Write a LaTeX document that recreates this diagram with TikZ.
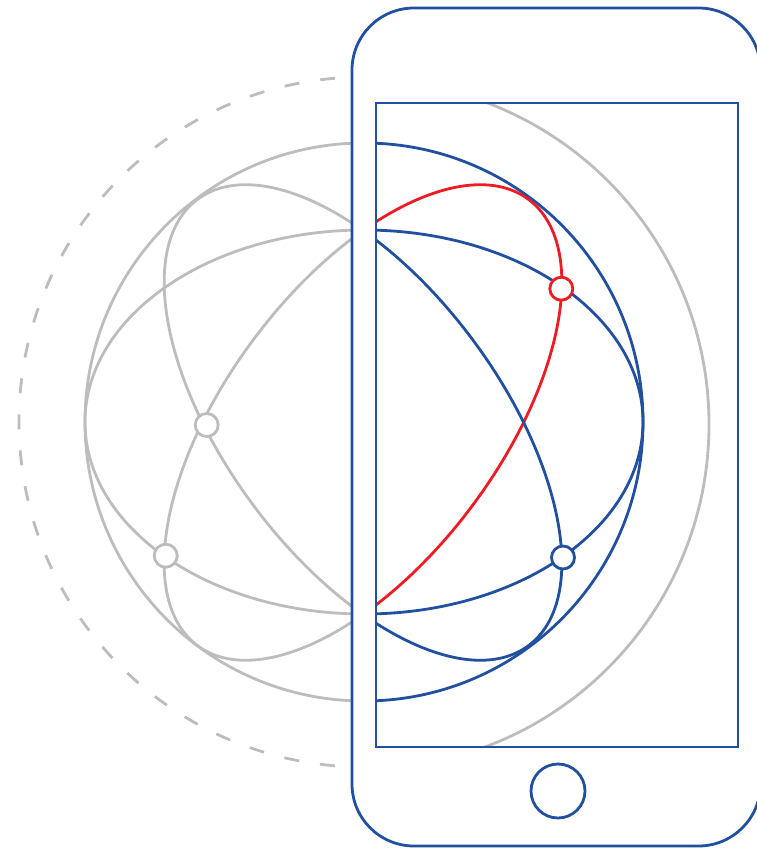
\documentclass[tikz,border=0pt]{standalone}
\usepackage{tikz}
\definecolor{phoneblue}{HTML}{2250A0}
\definecolor{softgray}{HTML}{BDBDBD}
\definecolor{alertred}{HTML}{ED1C24}
\tikzset{
  ln/.style={line width=2.8pt},
  bluel/.style={ln,draw=phoneblue},
  grayl/.style={ln,draw=softgray},
  redl/.style={ln,draw=alertred},
  dot/.style={circle,line width=2.8pt,fill=white,minimum size=23pt,inner sep=0pt,outer sep=0pt},
}
\newcommand{\globelines}[2]{%
  \draw[#1] (c) circle[radius=279pt];
  \draw[#1] (c) ellipse[x radius=279pt,y radius=192pt];
  \draw[#2,rotate around={53.47:(t)}] (t) ellipse[x radius=277.8pt,y radius=137.4pt];
  \draw[#1,rotate around={-53.47:(t)}] (t) ellipse[x radius=277.8pt,y radius=137.4pt];
}
\begin{document}
\begin{tikzpicture}[x=1pt,y=-1pt]
\useasboundingbox (0,0) rectangle (757,848);
\clip (0,0) rectangle (757,848);
\coordinate (c) at (364,422);
\coordinate (t) at (363,422.5);
\coordinate (orbit) at (365,424.5);
% globe, left of the phone
\begin{scope}
  \clip (0,0) rectangle (352,848);
  \globelines{grayl}{grayl}
\end{scope}
% dashed outer orbit
\draw[grayl,dash pattern=on 15pt off 21.1pt]
  ([shift={(94.8:345pt)}]c) arc[start angle=94.8,end angle=265.2,radius=345pt];
% globe, inside the screen
\begin{scope}
  \clip (376,103) rectangle (738,747);
  \draw[grayl] (orbit) circle[radius=344pt];
  \globelines{bluel}{redl}
\end{scope}
% phone
\draw[bluel,rounded corners=62pt] (352,8) rectangle (760.5,846);
\draw[bluel] (376,103) rectangle (738,747);
\node[circle,draw=phoneblue,line width=2.8pt,minimum size=54pt,inner sep=0pt] (home) at (558,791) {};
% markers
\node[dot,draw=softgray] (g1) at (206.7,425) {};
\node[dot,draw=softgray] (g2) at (165.7,555.7) {};
\node[dot,draw=alertred] (r1) at (561.3,288.7) {};
\node[dot,draw=phoneblue] (b1) at (563,557.5) {};
\end{tikzpicture}
\end{document}
